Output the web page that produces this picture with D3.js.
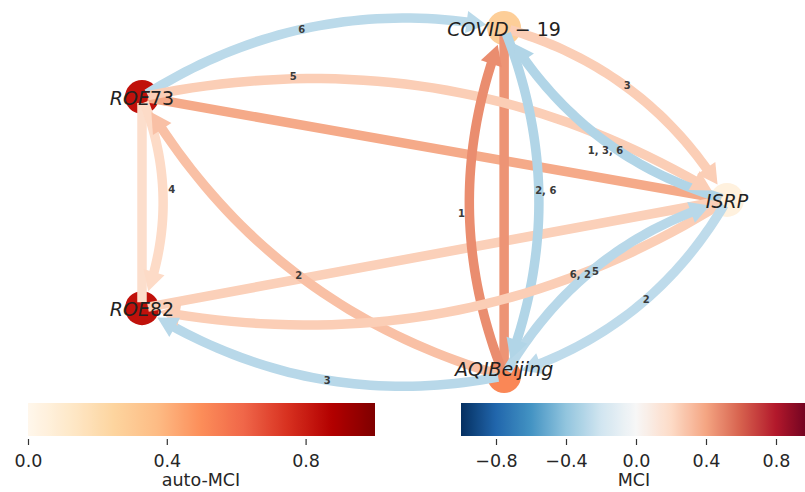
<!DOCTYPE html>
<html><head><meta charset="utf-8">
<script src="https://cdn.jsdelivr.net/npm/d3@7"></script>
<style>
body{margin:0;background:#fff;}
svg{display:block;font-family:"DejaVu Sans",sans-serif;}
</style>
</head><body>
<svg id="c" width="805" height="492"></svg>
<script>
// ---------------- DATA ----------------
const nodeNames = ["COVID-19", "ROE73", "ISRP", "ROE82", "AQIBeijing"];
const nodeAutoMCI = [0.28, 0.83, 0.05, 0.83, 0.52];

// lagged (curved, directed) links
const linkSource = [1, 1, 0, 2, 4, 0, 1, 4, 2, 4, 2, 4];
const linkTarget = [0, 2, 2, 0, 0, 4, 3, 1, 3, 2, 4, 3];
const linkMCI    = [-0.27, 0.25, 0.25, -0.3, 0.47, -0.3, 0.2, 0.3, 0.25, -0.28, -0.26, -0.28];
const linkLags   = [[6], [5], [3], [1, 3, 6], [1], [2, 6], [4], [2], [6, 2], [5], [2], [3]];

// contemporaneous (straight) links
const contSource = [1, 1, 3, 4];
const contTarget = [2, 3, 2, 0];
const contMCI    = [0.38, 0.18, 0.24, 0.45];

const autoTicks = [0, 0.4, 0.8];
const mciTicks = [-0.8, -0.4, 0, 0.4, 0.8];
const autoTitle = "auto-MCI";
const mciTitle = "MCI";

// ---------------- LAYOUT ----------------
const nodeLayout = [[0.619, 0], [0, 0.198], [1, 0.494], [0, 0.805], [0.619, 1]];
const x = d3.scaleLinear().domain([0, 1]).range([142, 727]);
const y = d3.scaleLinear().domain([0, 1]).range([28, 376]);
const labelT   = [0.46, 0.245, 0.47, 0.45, 0.468, 0.466, 0.44, 0.49, 0.265, 0.48, 0.44, 0.47];
const labelOff = [0, 2, 2, 7, 8, 7, 9, 0, 0, -3, 0, 0];
const RAD = 0.2, NODE_R = 17, EDGE_W = 9.5, HEAD_L = 20, HEAD_W = 22, SHRINK_A = 6, SHRINK_B = 18;

// ---------------- COLOUR MAPS ----------------
const rdbuR = ["#053061","#2166ac","#4393c3","#92c5de","#d1e5f0","#f7f7f7","#fddbc7","#f4a582","#d6604d","#b2182b","#67001f"];
const orrd = ["#fff7ec","#fee8c8","#fdd49e","#fdbb84","#fc8d59","#ef6548","#d7301f","#b30000","#7f0000"];
const mciColor = d3.scaleLinear().domain(d3.range(11).map(i => -1 + i * 0.2)).range(rdbuR).interpolate(d3.interpolateRgb);
const autoColor = d3.scaleLinear().domain(d3.range(9).map(i => i / 8)).range(orrd).interpolate(d3.interpolateRgb);

const svg = d3.select("#c");
const P = nodeLayout.map(p => [x(p[0]), y(p[1])]);

function bez(p0, c, p2, t) {
  const a = (1 - t) * (1 - t), b = 2 * t * (1 - t), d = t * t;
  return [a * p0[0] + b * c[0] + d * p2[0], a * p0[1] + b * c[1] + d * p2[1]];
}
function dist(a, b) { return Math.hypot(a[0] - b[0], a[1] - b[1]); }
function findT(p0, c, p2, ref, r, fromStart) {
  let lo = fromStart ? 0 : 0.5, hi = fromStart ? 0.5 : 1;
  for (let k = 0; k < 40; k++) {
    const m = (lo + hi) / 2;
    const dd = dist(bez(p0, c, p2, m), ref);
    if (fromStart) { if (dd < r) lo = m; else hi = m; }
    else { if (dd < r) hi = m; else lo = m; }
  }
  return (lo + hi) / 2;
}
function geom(s, t, rad) {
  const p0 = P[s], p2 = P[t];
  const dx = p2[0] - p0[0], dy = p2[1] - p0[1];
  const L = Math.hypot(dx, dy);
  const c = [(p0[0] + p2[0]) / 2 + rad * dy, (p0[1] + p2[1]) / 2 - rad * dx];
  return {p0, p2, c, n: [dy / L, -dx / L]};
}

// ---------------- NODES ----------------
svg.append("g").selectAll("circle").data(nodeNames).join("circle")
  .attr("cx", (d, i) => P[i][0]).attr("cy", (d, i) => P[i][1])
  .attr("r", NODE_R).attr("fill", (d, i) => autoColor(nodeAutoMCI[i]));

const line = d3.line();

// ---------------- STRAIGHT LINKS ----------------
const gS = svg.append("g");
contSource.forEach((s, k) => {
  const g = geom(s, contTarget[k], 0);
  const t0 = findT(g.p0, g.c, g.p2, g.p0, SHRINK_A, true);
  const t1 = findT(g.p0, g.c, g.p2, g.p2, SHRINK_A, false);
  gS.append("path").attr("d", line([bez(g.p0, g.c, g.p2, t0), bez(g.p0, g.c, g.p2, t1)]))
    .attr("fill", "none").attr("stroke", mciColor(contMCI[k])).attr("stroke-width", EDGE_W);
});

// ---------------- CURVED LINKS ----------------
const gC = svg.append("g");
const gH = svg.append("g");
linkSource.forEach((s, k) => {
  const g = geom(s, linkTarget[k], RAD);
  const col = mciColor(linkMCI[k]);
  const t0 = findT(g.p0, g.c, g.p2, g.p0, SHRINK_A, true);
  const tTip = findT(g.p0, g.c, g.p2, g.p2, SHRINK_B, false);
  const tip = bez(g.p0, g.c, g.p2, tTip);
  const tBase = findT(g.p0, g.c, g.p2, tip, HEAD_L, false);
  const base = bez(g.p0, g.c, g.p2, tBase);
  const pts = d3.range(0, 41).map(i => bez(g.p0, g.c, g.p2, t0 + (tBase + 0.01 - t0) * i / 40));
  gC.append("path").attr("d", line(pts)).attr("fill", "none")
    .attr("stroke", col).attr("stroke-width", EDGE_W);
  const ux = (tip[0] - base[0]) / HEAD_L, uy = (tip[1] - base[1]) / HEAD_L;
  const hw = HEAD_W / 2;
  gH.append("path").attr("d", line([tip, [base[0] - uy * hw, base[1] + ux * hw], [base[0] + uy * hw, base[1] - ux * hw]]) + "Z")
    .attr("fill", col);
});

// ---------------- EDGE LABELS ----------------
const gL = svg.append("g");
linkSource.forEach((s, k) => {
  const g = geom(s, linkTarget[k], RAD);
  const p = bez(g.p0, g.c, g.p2, labelT[k]);
  gL.append("text").attr("x", p[0] + g.n[0] * labelOff[k]).attr("y", p[1] + g.n[1] * labelOff[k])
    .attr("text-anchor", "middle").attr("dominant-baseline", "central")
    .attr("font-size", 10).attr("font-weight", "bold").attr("fill", "#3a3a3a")
    .text(linkLags[k].join(", "));
});

// ---------------- NODE LABELS ----------------
function runs(name) {
  const out = [];
  const re = /([A-Za-z]+)|([0-9]+)|(-)/g; let m;
  while ((m = re.exec(name))) {
    if (m[1]) out.push({t: m[1], it: true});
    else if (m[2]) out.push({t: m[2], it: false});
    else out.push({t: " \u2212 ", it: false});
  }
  return out;
}
const gN = svg.append("g");
nodeNames.forEach((n, i) => {
  // vertical centring of the whole text box (descenders lift the text)
  const lift = /[gjpqy]/.test(n) ? 7 : -1;
  const t = gN.append("text").attr("x", P[i][0]).attr("y", P[i][1] - lift)
    .attr("text-anchor", "middle").attr("dominant-baseline", "central")
    .attr("font-size", 19).attr("fill", "#222").style("white-space", "pre");
  runs(n).forEach(r => t.append("tspan").attr("font-style", r.it ? "italic" : "normal").text(r.t));
});

// ---------------- COLORBARS ----------------
const defs = svg.append("defs");
function colorbar(id, scale, cmap, dom, ticks, title, x0, x1, xEnd, titleX) {
  const grad = defs.append("linearGradient").attr("id", id)
    .attr("gradientUnits", "userSpaceOnUse").attr("x1", x0).attr("x2", x1).attr("y1", 0).attr("y2", 0);
  d3.range(0, 101).forEach(i => {
    const v = dom[0] + (dom[1] - dom[0]) * i / 100;
    grad.append("stop").attr("offset", i + "%").attr("stop-color", cmap(v));
  });
  svg.append("rect").attr("x", x0).attr("y", 403).attr("width", xEnd - x0).attr("height", 33)
    .attr("fill", `url(#${id})`);
  const ax = svg.append("g").attr("transform", "translate(0,439)")
    .call(d3.axisBottom(scale).tickValues(ticks).tickFormat(d3.format(".1f")).tickSize(6).tickPadding(9.5));
  ax.select(".domain").remove();
  ax.selectAll(".tick line").attr("stroke", "#333").attr("stroke-width", 1.2);
  ax.selectAll("text").attr("font-size", 17.5).attr("fill", "#262626").attr("font-family", "DejaVu Sans");
  svg.append("text").attr("x", titleX).attr("y", 486).attr("text-anchor", "middle")
    .attr("font-size", 17.5).attr("fill", "#262626").text(title);
}
const autoScale = d3.scaleLinear().domain([0, 1]).range([28, 375]);
const mciScale = d3.scaleLinear().domain([-1, 1]).range([461, 811]);
colorbar("gAuto", autoScale, autoColor, [0, 1], autoTicks, autoTitle, 28, 375, 375, 201);
colorbar("gMci", mciScale, mciColor, [-1, 1], mciTicks, mciTitle, 461, 811, 805, 634);
</script>
</body></html>
